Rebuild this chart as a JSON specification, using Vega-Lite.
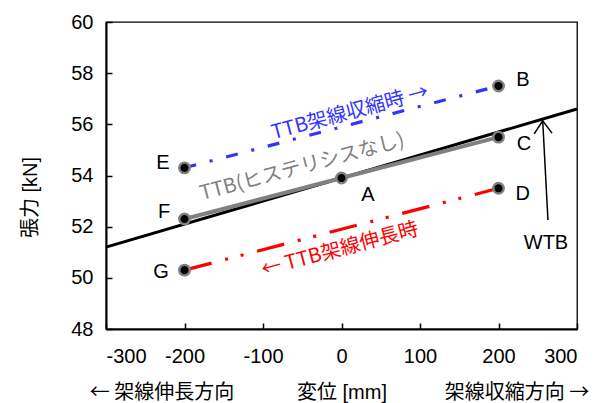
{
  "$schema": "https://vega.github.io/schema/vega-lite/v6.json",
  "width": 471,
  "height": 307,
  "autosize": {"type": "none"},
  "padding": {"left": 106, "top": 22, "right": 21, "bottom": 74},
  "background": "white",
  "config": {
    "view": {"stroke": "black", "strokeWidth": 1.3},
    "axis": {
      "grid": false,
      "domainColor": "black",
      "domainWidth": 2,
      "tickColor": "black",
      "tickWidth": 1.5,
      "tickSize": -6,
      "labelFont": "Liberation Sans",
      "labelFontSize": 20,
      "labelColor": "black",
      "titleFont": "Liberation Sans, Noto Sans CJK JP",
      "titleFontSize": 20,
      "titleFontWeight": "normal",
      "titleColor": "black"
    }
  },
  "datasets": {
    "lines": [
      {"series": "WTB", "x": -300, "y": 51.2},
      {"series": "WTB", "x": 300, "y": 56.6},
      {"series": "none", "x": -200, "y": 52.3},
      {"series": "none", "x": 0, "y": 53.9},
      {"series": "none", "x": 200, "y": 55.5},
      {"series": "contract", "x": -200, "y": 54.3},
      {"series": "contract", "x": 200, "y": 57.5},
      {"series": "extend", "x": -200, "y": 50.3},
      {"series": "extend", "x": 200, "y": 53.5}
    ],
    "points": [
      {"label": "A", "x": 0, "y": 53.9, "lx": 33.8, "ly": 53.24},
      {"label": "B", "x": 200, "y": 57.5, "lx": 231, "ly": 57.73},
      {"label": "C", "x": 200, "y": 55.5, "lx": 232.5, "ly": 55.23},
      {"label": "D", "x": 200, "y": 53.5, "lx": 231, "ly": 53.26},
      {"label": "E", "x": -200, "y": 54.3, "lx": -227.4, "ly": 54.49},
      {"label": "F", "x": -200, "y": 52.3, "lx": -226, "ly": 52.57},
      {"label": "G", "x": -200, "y": 50.3, "lx": -230, "ly": 50.23}
    ],
    "notes": [
      {"text": "TTB架線収縮時 →", "x": 10.8, "y": 56.46, "kind": "contract"},
      {"text": "TTB(ヒステリシスなし)", "x": -50, "y": 54.33, "kind": "none"},
      {"text": "← TTB架線伸長時", "x": -2, "y": 51.1, "kind": "extend"}
    ],
    "wtb": [
      {"text": "WTB", "x": 260.5, "y": 51.36}
    ],
    "direction": [
      {"text": "← 架線伸長方向", "x": -228.7, "y": 45.5},
      {"text": "架線収縮方向 →", "x": 223.6, "y": 45.5}
    ],
    "arrow": [
      {"x": 263, "y": 52.26, "x2": 256.3, "y2": 56.14}
    ]
  },
  "encoding": {
    "x": {
      "field": "x", "type": "quantitative",
      "scale": {"domain": [-300, 300], "nice": false, "zero": false},
      "axis": {"values": [-300, -200, -100, 0, 100, 200, 300], "labelExpr": "replace(datum.label, '−', '-')", "title": "変位 [mm]", "labelPadding": 23, "titleY": 63, "titleBaseline": "middle"}
    },
    "y": {
      "field": "y", "type": "quantitative",
      "scale": {"domain": [48, 60], "nice": false, "zero": false},
      "axis": {"values": [48, 50, 52, 54, 56, 58, 60], "title": "張力 [kN]", "labelPadding": 19, "titleX": -76, "titleY": 175, "titleAngle": -90, "titleBaseline": "middle", "titleAlign": "center"}
    }
  },
  "layer": [
    {
      "data": {"name": "lines"},
      "transform": [{"filter": "datum.series === 'WTB'"}],
      "mark": {"type": "line", "color": "black", "strokeWidth": 3}
    },
    {
      "data": {"name": "lines"},
      "transform": [{"filter": "datum.series === 'none'"}],
      "mark": {"type": "line", "color": "#808080", "strokeWidth": 4}
    },
    {
      "data": {"name": "lines"},
      "transform": [{"filter": "datum.series === 'contract'"}],
      "mark": {"type": "line", "color": "#3333FF", "strokeWidth": 3.2, "strokeDash": [12, 14, 3, 14]}
    },
    {
      "data": {"name": "lines"},
      "transform": [{"filter": "datum.series === 'extend'"}],
      "mark": {"type": "line", "color": "#FF0000", "strokeWidth": 3.2, "strokeDash": [28, 14, 3, 13, 3, 14]}
    },
    {
      "data": {"name": "arrow"},
      "mark": {"type": "rule", "color": "black", "strokeWidth": 1.5},
      "encoding": {
        "x2": {"field": "x2"},
        "y2": {"field": "y2"}
      }
    },
    {
      "data": {"name": "arrow"},
      "mark": {"type": "point", "shape": "M-0.7,1L0,0L0.7,1", "filled": false, "stroke": "black", "strokeWidth": 1.5, "size": 645, "angle": -2, "opacity": 1},
      "encoding": {
        "x": {"field": "x2", "type": "quantitative"},
        "y": {"field": "y2", "type": "quantitative"}
      }
    },
    {
      "data": {"name": "points"},
      "mark": {"type": "point", "shape": "circle", "filled": true, "fill": "black", "stroke": "#808080", "strokeWidth": 2.4, "size": 110, "opacity": 1}
    },
    {
      "data": {"name": "points"},
      "mark": {"type": "text", "font": "Liberation Sans", "fontSize": 20, "color": "black", "align": "center", "baseline": "middle"},
      "encoding": {
        "x": {"field": "lx", "type": "quantitative"},
        "y": {"field": "ly", "type": "quantitative"},
        "text": {"field": "label"}
      }
    },
    {
      "data": {"name": "notes"},
      "mark": {"type": "text", "font": "Noto Sans CJK JP", "fontSize": 20, "align": "center", "baseline": "middle", "angle": -15},
      "encoding": {
        "text": {"field": "text"},
        "color": {"field": "kind", "type": "nominal", "legend": null, "scale": {"domain": ["contract", "none", "extend"], "range": ["#3333FF", "#808080", "#FF0000"]}}
      }
    },
    {
      "data": {"name": "wtb"},
      "mark": {"type": "text", "font": "Liberation Sans", "fontSize": 20, "color": "black", "align": "center", "baseline": "middle"},
      "encoding": {
        "text": {"field": "text"}
      }
    },
    {
      "data": {"name": "direction"},
      "mark": {"type": "text", "font": "Noto Sans CJK JP", "fontSize": 20, "color": "black", "align": "center", "baseline": "middle"},
      "encoding": {
        "text": {"field": "text"}
      }
    }
  ]
}
